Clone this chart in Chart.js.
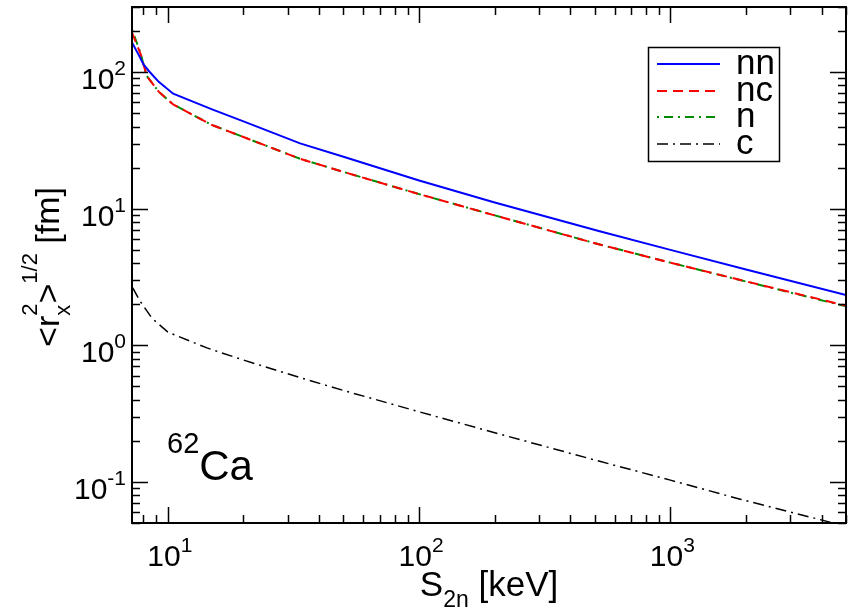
<!DOCTYPE html>
<html>
<head>
<meta charset="utf-8">
<script src="https://cdn.jsdelivr.net/npm/chart.js@4.4.1/dist/chart.umd.min.js"></script>
<style>
  html, body { margin: 0; padding: 0; background: #fff; }
  canvas { display: block; }
</style>
</head>
<body>
<canvas id="radius-chart" width="849" height="611"></canvas>
<script>
// Values (log-log axes).
var s2nNN = [7.2, 7.7, 8.0, 8.4, 9.2, 10.5, 15, 20, 33.6, 50, 100, 200, 523, 1000, 2000, 5000];
var rNN   = [165, 131, 114, 102, 85, 69.5, 53.4, 43.6, 30.1, 24.0, 16.1, 11.1, 6.84, 5.0, 3.59, 2.33];

var s2nNC = [7.2, 7.8, 8.0, 8.25, 9.2, 10.5, 15, 20, 33.6, 50, 100, 200, 523, 1000, 2000, 5000];
var rNC   = [195, 135, 114, 93.5, 72, 58, 41, 33.5, 23.2, 18.6, 12.8, 8.94, 5.47, 4.03, 2.94, 1.95];

var s2nN  = [7.2, 7.8, 8.0, 8.25, 9.2, 10.5, 15, 20, 33.6, 50, 100, 200, 523, 1000, 2000, 5000];
var rN    = [205, 137, 114, 93.5, 72, 58, 41, 33.5, 23.2, 18.6, 12.8, 8.94, 5.47, 4.03, 2.93, 1.93];

var s2nC  = [7.25, 7.76, 8.64, 10, 14.3, 20, 33.6, 50, 100, 200, 523, 1000, 1880, 4356, 5000];
var rC    = [2.63, 2.10, 1.58, 1.25, 0.957, 0.78, 0.58, 0.467, 0.326, 0.229, 0.1415, 0.103, 0.075, 0.0505, 0.047];

var seriesLabels = ["nn", "nc", "n", "c"];

var xTicks = [10, 100, 1000];
var xTickExps = ["1", "2", "3"];
var yTicks = [0.1, 1, 10, 100];
var yTickExps = ["-1", "0", "1", "2"];

var FONT = '"Liberation Sans", Arial, Helvetica, sans-serif';

function toPoints(xs, ys) {
  var pts = [];
  for (var i = 0; i < xs.length; i++) pts.push({ x: xs[i], y: ys[i] });
  return pts;
}

// Rich text: list of parts {t, s (font px), dy, stack}
function partsWidth(ctx, parts) {
  var w = 0, stackW = 0;
  parts.forEach(function (p) {
    ctx.font = p.s + "px " + FONT;
    var pw = ctx.measureText(p.t).width;
    if (p.stack) { stackW = pw; return; }
    w += Math.max(pw, stackW);
    stackW = 0;
  });
  return w;
}

function drawParts(ctx, parts, x, y) {
  var cx = x, stackW = 0;
  parts.forEach(function (p) {
    ctx.font = p.s + "px " + FONT;
    var pw = ctx.measureText(p.t).width;
    ctx.fillText(p.t, cx, y + (p.dy || 0));
    if (p.stack) { stackW = pw; return; }
    cx += Math.max(pw, stackW);
    stackW = 0;
  });
}

function powLabel(exp) {
  return [{ t: "10", s: 30 }, { t: exp, s: 21, dy: -14 }];
}

// Frame, inward ticks on all four sides, labels, legend and annotation.
var gracePlugin = {
  id: "grace",
  afterDraw: function (chart) {
    var ctx = chart.ctx;
    var area = chart.chartArea;
    var xs = chart.scales.x;
    var ys = chart.scales.y;
    ctx.save();
    ctx.fillStyle = "#000";
    ctx.strokeStyle = "#000";
    ctx.textBaseline = "alphabetic";
    ctx.textAlign = "left";

    // ticks
    ctx.lineWidth = 1.5;
    ctx.beginPath();
    for (var d = 0; d <= 4; d++) {
      for (var k = 1; k <= 9; k++) {
        var v = k * Math.pow(10, d);
        if (v < xs.min * 0.999 || v > xs.max * 1.001) continue;
        var px = Math.round(xs.getPixelForValue(v)) + 0.5;
        var len = k === 1 ? 16 : 8;
        ctx.moveTo(px, area.bottom); ctx.lineTo(px, area.bottom - len);
        ctx.moveTo(px, area.top); ctx.lineTo(px, area.top + len);
      }
    }
    for (var e = -2; e <= 2; e++) {
      for (var m = 1; m <= 9; m++) {
        var w = m * Math.pow(10, e);
        if (w < ys.min * 0.999 || w > ys.max * 1.001) continue;
        var py = Math.round(ys.getPixelForValue(w)) + 0.5;
        var l2 = m === 1 ? 16 : 8;
        ctx.moveTo(area.left, py); ctx.lineTo(area.left + l2, py);
        ctx.moveTo(area.right, py); ctx.lineTo(area.right - l2, py);
      }
    }
    ctx.stroke();

    // frame
    ctx.lineWidth = 2;
    ctx.strokeRect(area.left, area.top, area.right - area.left, area.bottom - area.top);

    // x tick labels
    xTicks.forEach(function (v, i) {
      var parts = powLabel(xTickExps[i]);
      var wdt = partsWidth(ctx, parts);
      drawParts(ctx, parts, xs.getPixelForValue(v) - wdt / 2 + 2, 566);
    });
    // y tick labels
    yTicks.forEach(function (v, i) {
      var parts = powLabel(yTickExps[i]);
      var wdt = partsWidth(ctx, parts);
      drawParts(ctx, parts, 126 - wdt, ys.getPixelForValue(v) + 17);
    });

    // x title
    var xt = [{ t: "S", s: 35 }, { t: "2n", s: 23, dy: 11 }, { t: " [keV]", s: 35 }];
    var xtw = partsWidth(ctx, xt);
    drawParts(ctx, xt, (area.left + area.right) / 2 - xtw / 2, 596);

    // y title (rotated)
    var yt = [
      { t: "<", s: 34 }, { t: "r", s: 34 },
      { t: "2", s: 22, dy: -22, stack: true }, { t: "x", s: 22, dy: 11 },
      { t: ">", s: 34 }, { t: "1/2", s: 22, dy: -22 }, { t: " [fm]", s: 34 }
    ];
    var ytw = partsWidth(ctx, yt);
    ctx.save();
    ctx.translate(59, (area.top + area.bottom) / 2 + 2);
    ctx.rotate(-Math.PI / 2);
    drawParts(ctx, yt, -ytw / 2, 0);
    ctx.restore();

    // nucleus label
    drawParts(ctx, [{ t: "62", s: 29, dy: -27 }, { t: "Ca", s: 42 }], 167, 480);

    // legend
    ctx.fillStyle = "#fff";
    ctx.fillRect(648, 47, 131, 114);
    ctx.lineWidth = 1.5;
    ctx.strokeStyle = "#000";
    ctx.strokeRect(648.5, 47.5, 131, 114);
    var rows = [64, 91, 117, 144];
    chart.data.datasets.forEach(function (ds, i) {
      ctx.save();
      ctx.strokeStyle = ds.borderColor;
      ctx.lineWidth = ds.borderWidth;
      ctx.setLineDash(ds.borderDash || []);
      ctx.beginPath();
      ctx.moveTo(657, rows[i]);
      ctx.lineTo(720, rows[i]);
      ctx.stroke();
      ctx.restore();
      ctx.fillStyle = "#000";
      ctx.font = "35px " + FONT;
      ctx.fillText(ds.label, 736, rows[i] + 10);
    });
    ctx.restore();
  }
};

var ctx = document.getElementById("radius-chart").getContext("2d");
var radiusChart = new Chart(ctx, {
  type: "line",
  data: {
    datasets: [
      { label: seriesLabels[0], data: toPoints(s2nNN, rNN), borderColor: "#0000ff", borderWidth: 2, borderDash: [] },
      { label: seriesLabels[1], data: toPoints(s2nNC, rNC), borderColor: "#ff0000", borderWidth: 2, borderDash: [10, 6] },
      { label: seriesLabels[2], data: toPoints(s2nN, rN), borderColor: "#008b00", borderWidth: 2, borderDash: [2, 5, 9, 5] },
      { label: seriesLabels[3], data: toPoints(s2nC, rC), borderColor: "#000000", borderWidth: 1.5, borderDash: [11, 5, 2, 5] }
    ]
  },
  options: {
    responsive: false,
    animation: false,
    events: [],
    layout: { padding: { top: 7, right: 3, left: 0, bottom: 0 } },
    elements: { point: { radius: 0 }, line: { tension: 0, fill: false } },
    plugins: { legend: { display: false }, tooltip: { enabled: false } },
    scales: {
      x: {
        type: "logarithmic",
        min: 7.2,
        max: 5000,
        grid: { display: false },
        border: { display: false },
        ticks: { display: false },
        afterFit: function (scale) { scale.height = 88; }
      },
      y: {
        type: "logarithmic",
        min: 0.05,
        max: 300,
        grid: { display: false },
        border: { display: false },
        ticks: { display: false },
        afterFit: function (scale) { scale.width = 132; }
      }
    }
  },
  plugins: [gracePlugin]
});
</script>
</body>
</html>
